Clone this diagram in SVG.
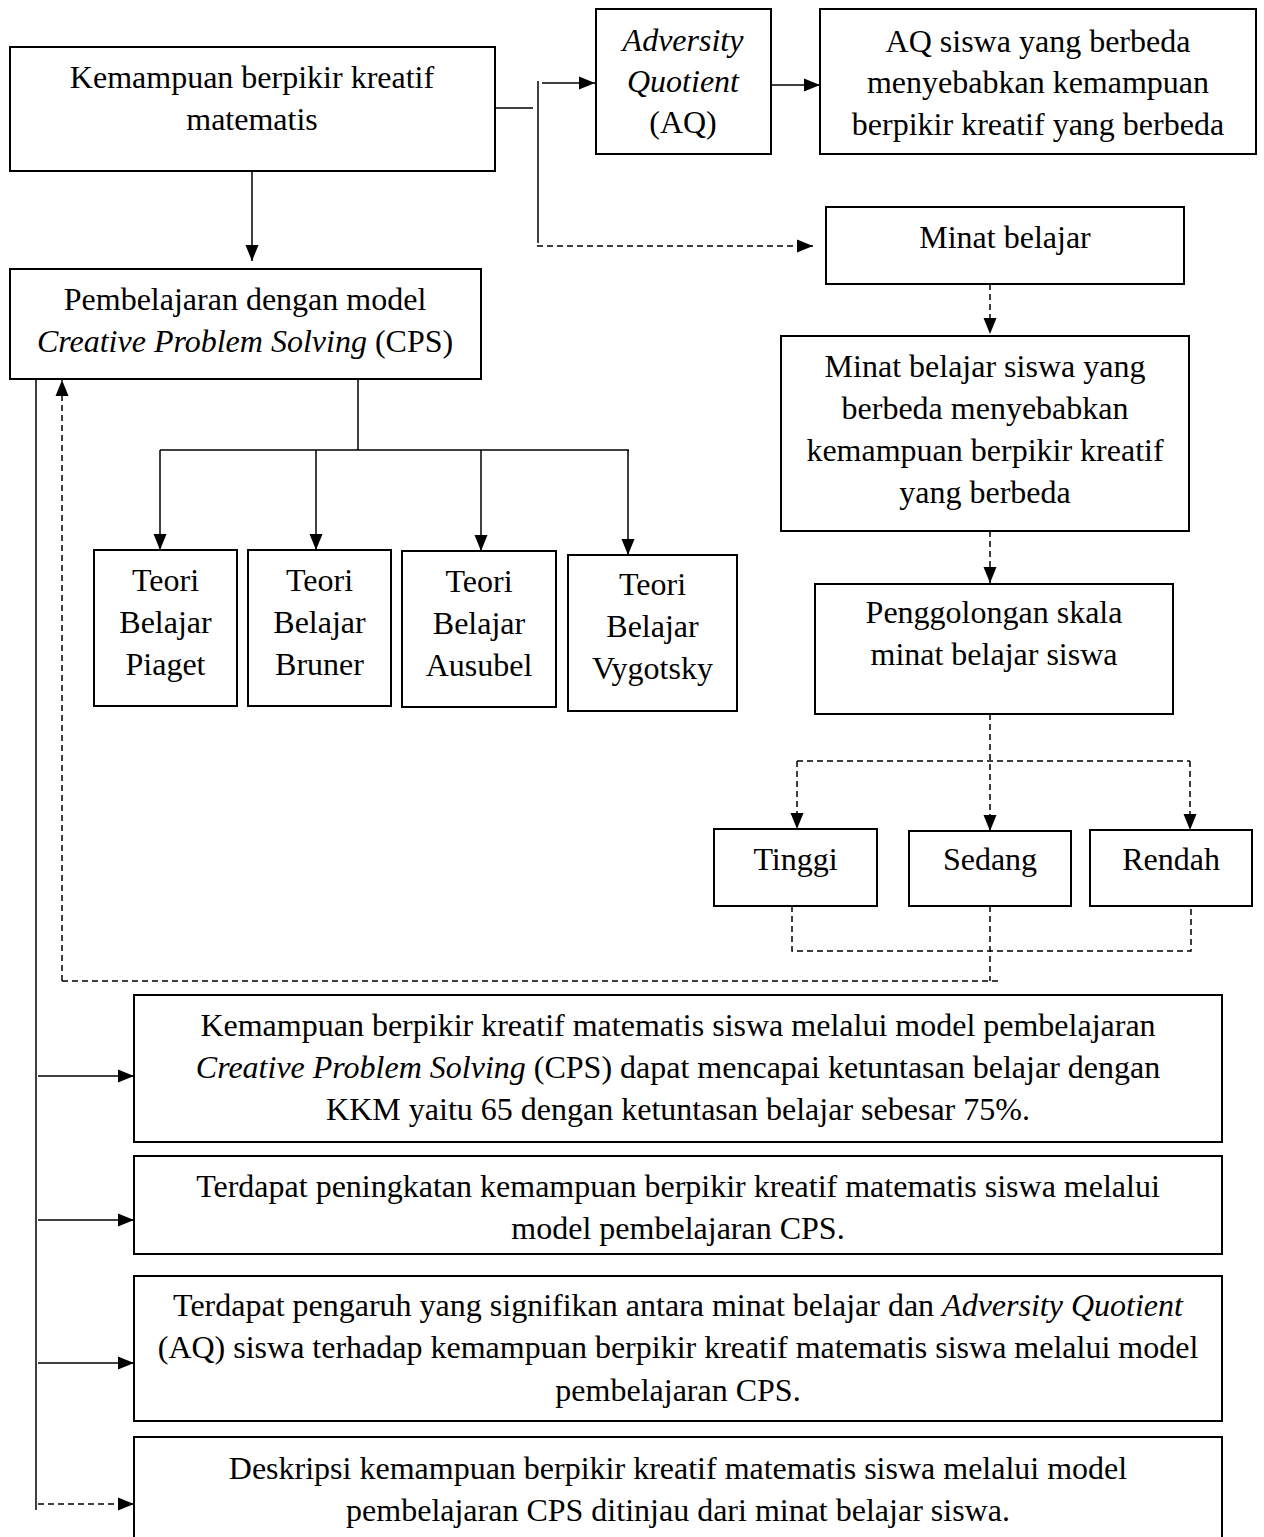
<svg xmlns="http://www.w3.org/2000/svg" width="1264" height="1537" viewBox="0 0 1264 1537">
<style>
.box{fill:#fff;stroke:#000;stroke-width:2}
.t{font-family:"Liberation Serif","Times New Roman",serif;font-size:32px;fill:#000;text-anchor:middle}
.i{font-style:italic}
.ln{fill:none;stroke:#000;stroke-width:1.5}
.ds{fill:none;stroke:#000;stroke-width:1.5;stroke-dasharray:6 4}
</style>
<defs>
<marker id="ah" markerUnits="userSpaceOnUse" markerWidth="16" markerHeight="14" refX="16" refY="7" orient="auto">
<path d="M0,0.5 L16,7 L0,13.5 z" fill="#000"/>
</marker>
</defs>
<rect width="1264" height="1537" fill="#fff"/>
<g id="connectors">
<path class="ln" d="M495,108 H533"/>
<path class="ln" d="M538,81 V243"/>
<path class="ln" d="M542,83 H595" marker-end="url(#ah)"/>
<path class="ln" d="M768,85 H820" marker-end="url(#ah)"/>
<path class="ds" d="M537,246 H813" marker-end="url(#ah)"/>
<path class="ln" d="M252,171 V261" marker-end="url(#ah)"/>
<path class="ln" d="M358,379 V450"/>
<path class="ln" d="M160,450 H629"/>
<path class="ln" d="M160,450 V550" marker-end="url(#ah)"/>
<path class="ln" d="M316,450 V550" marker-end="url(#ah)"/>
<path class="ln" d="M481,450 V551" marker-end="url(#ah)"/>
<path class="ln" d="M628,450 V555" marker-end="url(#ah)"/>
<path class="ds" d="M990,284 V334" marker-end="url(#ah)"/>
<path class="ds" d="M990,531 V583" marker-end="url(#ah)"/>
<path class="ds" d="M990,714 V831" marker-end="url(#ah)"/>
<path class="ds" d="M797,761 H1190"/>
<path class="ds" d="M797,761 V829" marker-end="url(#ah)"/>
<path class="ds" d="M1190,761 V830" marker-end="url(#ah)"/>
<path class="ds" d="M792,906 V951 H1191 V906"/>
<path class="ds" d="M990,906 V981"/>
<path class="ds" d="M62,981 H1000"/>
<path class="ds" d="M62,981 V380" marker-end="url(#ah)"/>
<path class="ln" d="M36,379 V1510"/>
<path class="ln" d="M38,1076 H134" marker-end="url(#ah)"/>
<path class="ln" d="M38,1220 H134" marker-end="url(#ah)"/>
<path class="ln" d="M38,1363 H134" marker-end="url(#ah)"/>
<path class="ds" d="M38,1504 H134" marker-end="url(#ah)"/>
</g>
<g id="kemampuan">
<rect class="box" x="10" y="47" width="485" height="124"/>
<text class="t" x="252" y="88">Kemampuan berpikir kreatif</text>
<text class="t" x="252" y="130">matematis</text>
</g>
<g id="aq">
<rect class="box" x="596" y="9" width="175" height="145"/>
<text class="t i" x="683" y="51">Adversity</text>
<text class="t i" x="683" y="92">Quotient</text>
<text class="t" x="683" y="133">(AQ)</text>
</g>
<g id="aq-beda">
<rect class="box" x="820" y="9" width="436" height="145"/>
<text class="t" x="1038" y="52">AQ siswa yang berbeda</text>
<text class="t" x="1038" y="93">menyebabkan kemampuan</text>
<text class="t" x="1038" y="135">berpikir kreatif yang berbeda</text>
</g>
<g id="minat">
<rect class="box" x="826" y="207" width="358" height="77"/>
<text class="t" x="1005" y="248">Minat belajar</text>
</g>
<g id="cps">
<rect class="box" x="10" y="269" width="471" height="110"/>
<text class="t" x="245" y="310">Pembelajaran dengan model</text>
<text class="t" x="245" y="352"><tspan class="i">Creative Problem Solving</tspan> (CPS)</text>
</g>
<g id="minat-beda">
<rect class="box" x="781" y="336" width="408" height="195"/>
<text class="t" x="985" y="377">Minat belajar siswa yang</text>
<text class="t" x="985" y="419">berbeda menyebabkan</text>
<text class="t" x="985" y="461">kemampuan berpikir kreatif</text>
<text class="t" x="985" y="503">yang berbeda</text>
</g>
<g id="piaget">
<rect class="box" x="94" y="550" width="143" height="156"/>
<text class="t" x="165.5" y="591">Teori</text>
<text class="t" x="165.5" y="633">Belajar</text>
<text class="t" x="165.5" y="675">Piaget</text>
</g>
<g id="bruner">
<rect class="box" x="248" y="550" width="143" height="156"/>
<text class="t" x="319.5" y="591">Teori</text>
<text class="t" x="319.5" y="633">Belajar</text>
<text class="t" x="319.5" y="675">Bruner</text>
</g>
<g id="ausubel">
<rect class="box" x="402" y="551" width="154" height="156"/>
<text class="t" x="479" y="592">Teori</text>
<text class="t" x="479" y="634">Belajar</text>
<text class="t" x="479" y="676">Ausubel</text>
</g>
<g id="vygotsky">
<rect class="box" x="568" y="555" width="169" height="156"/>
<text class="t" x="652.5" y="595">Teori</text>
<text class="t" x="652.5" y="637">Belajar</text>
<text class="t" x="652.5" y="679">Vygotsky</text>
</g>
<g id="penggolongan">
<rect class="box" x="815" y="584" width="358" height="130"/>
<text class="t" x="994" y="623">Penggolongan skala</text>
<text class="t" x="994" y="665">minat belajar siswa</text>
</g>
<g id="tinggi">
<rect class="box" x="714" y="829" width="163" height="77"/>
<text class="t" x="795.5" y="870">Tinggi</text>
</g>
<g id="sedang">
<rect class="box" x="909" y="831" width="162" height="75"/>
<text class="t" x="990" y="870">Sedang</text>
</g>
<g id="rendah">
<rect class="box" x="1090" y="830" width="162" height="76"/>
<text class="t" x="1171" y="870">Rendah</text>
</g>
<g id="hasil1">
<rect class="box" x="134" y="995" width="1088" height="147"/>
<text class="t" x="678" y="1036">Kemampuan berpikir kreatif matematis siswa melalui model pembelajaran</text>
<text class="t" x="678" y="1078"><tspan class="i">Creative Problem Solving</tspan> (CPS) dapat mencapai ketuntasan belajar dengan</text>
<text class="t" x="678" y="1120">KKM yaitu 65 dengan ketuntasan belajar sebesar 75%.</text>
</g>
<g id="hasil2">
<rect class="box" x="134" y="1156" width="1088" height="98"/>
<text class="t" x="678" y="1197">Terdapat peningkatan kemampuan berpikir kreatif matematis siswa melalui</text>
<text class="t" x="678" y="1239">model pembelajaran CPS.</text>
</g>
<g id="hasil3">
<rect class="box" x="134" y="1276" width="1088" height="145"/>
<text class="t" x="678" y="1316">Terdapat pengaruh yang signifikan antara minat belajar dan <tspan class="i">Adversity Quotient</tspan></text>
<text class="t" x="678" y="1358">(AQ) siswa terhadap kemampuan berpikir kreatif matematis siswa melalui model</text>
<text class="t" x="678" y="1401">pembelajaran CPS.</text>
</g>
<g id="hasil4">
<rect class="box" x="134" y="1437" width="1088" height="110"/>
<text class="t" x="678" y="1479">Deskripsi kemampuan berpikir kreatif matematis siswa melalui model</text>
<text class="t" x="678" y="1521">pembelajaran CPS ditinjau dari minat belajar siswa.</text>
</g>
</svg>
